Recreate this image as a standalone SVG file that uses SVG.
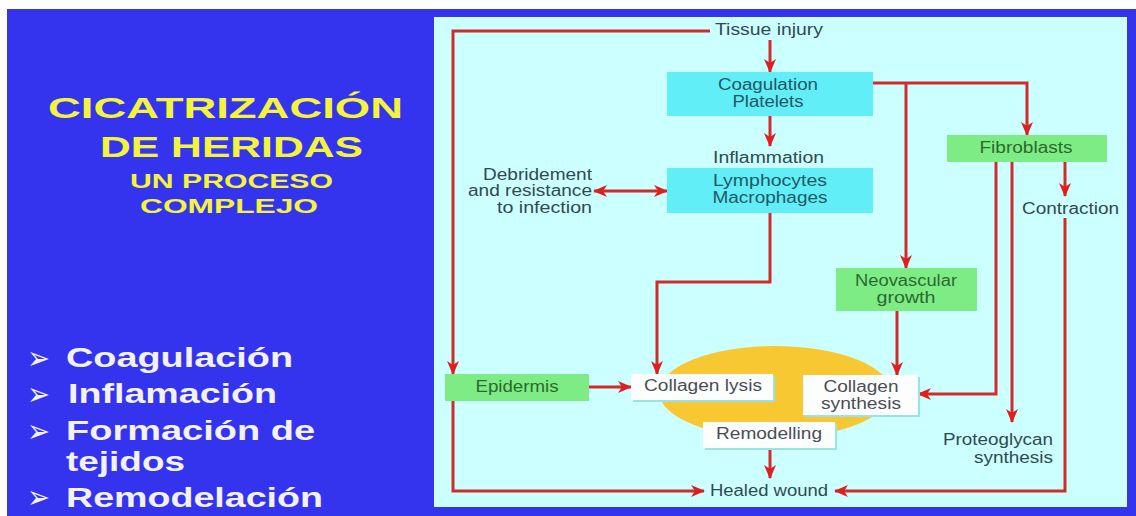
<svg xmlns="http://www.w3.org/2000/svg" width="1136" height="516" viewBox="0 0 1136 516">
<style>
.ttl{font-family:"Liberation Sans",Arial,sans-serif;font-weight:bold;fill:#f4f43c;}
.bul{font-family:"Liberation Sans",Arial,sans-serif;font-weight:bold;font-size:27px;fill:#f2f2f6;}
.sym{font-family:"DejaVu Sans",sans-serif;font-size:32px;fill:#f2f2f6;}
.t{font-family:"Liberation Sans",Arial,sans-serif;font-size:16px;fill:#2f4a50;}
.tc{font-family:"Liberation Sans",Arial,sans-serif;font-size:16px;fill:#1f5866;text-anchor:middle;}
.tg{font-family:"Liberation Sans",Arial,sans-serif;font-size:16px;fill:#2a6a30;text-anchor:middle;}
.tw{font-family:"Liberation Sans",Arial,sans-serif;font-size:16px;fill:#4a4d57;text-anchor:middle;}
.cy{fill:#62eef6;}
.gr{fill:#7eec84;}
.wh{fill:#fcfefe;}
.sh{fill:#98e2ea;}
.ln{fill:none;stroke:#d02c2c;stroke-width:3;marker-end:url(#ah);}
</style>
<defs>
<marker id="ah" viewBox="0 0 14 12" refX="13" refY="6" markerWidth="14" markerHeight="12" markerUnits="userSpaceOnUse" orient="auto-start-reverse">
<path d="M0,0 L14,6 L0,12 L4,6 Z" fill="#e01e1e"/>
</marker>
</defs>
<rect x="0" y="0" width="1136" height="516" fill="#ffffff"/>
<rect x="7" y="9" width="1129" height="507" fill="#3434ee"/>
<rect x="434" y="17" width="693" height="490" fill="#ccffff"/>

<g id="title">
<text class="ttl" x="48" y="118" font-size="29" textLength="355" lengthAdjust="spacingAndGlyphs">CICATRIZACIÓN</text>
<text class="ttl" x="100" y="157" font-size="29" textLength="263" lengthAdjust="spacingAndGlyphs">DE HERIDAS</text>
<text class="ttl" x="130" y="188" font-size="21" textLength="203" lengthAdjust="spacingAndGlyphs">UN PROCESO</text>
<text class="ttl" x="140" y="213" font-size="21" textLength="178" lengthAdjust="spacingAndGlyphs">COMPLEJO</text>
</g>

<g id="bullets">
<text class="sym" x="27" y="369" textLength="23" lengthAdjust="spacingAndGlyphs">➢</text>
<text class="bul" x="66" y="367" textLength="227" lengthAdjust="spacingAndGlyphs">Coagulación</text>
<text class="sym" x="27" y="405" textLength="23" lengthAdjust="spacingAndGlyphs">➢</text>
<text class="bul" x="68" y="403" textLength="209" lengthAdjust="spacingAndGlyphs">Inflamación</text>
<text class="sym" x="27" y="442" textLength="23" lengthAdjust="spacingAndGlyphs">➢</text>
<text class="bul" x="66" y="440" textLength="249" lengthAdjust="spacingAndGlyphs">Formación de</text>
<text class="bul" x="66" y="471" textLength="119" lengthAdjust="spacingAndGlyphs">tejidos</text>
<text class="sym" x="27" y="508" textLength="23" lengthAdjust="spacingAndGlyphs">➢</text>
<text class="bul" x="66" y="507" textLength="257" lengthAdjust="spacingAndGlyphs">Remodelación</text>
</g>

<ellipse id="remodel-zone" cx="775" cy="392" rx="116" ry="46" fill="#f8c832"/>

<g id="connectors">
<path class="ln" d="M710,31 H453 V374"/>
<path class="ln" d="M770,40 V72"/>
<path class="ln" d="M770,116 V146"/>
<path class="ln" d="M873,83 H1027 V135"/>
<path class="ln" d="M906,83 V268"/>
<path class="ln" d="M594,191 H667" style="marker-start:url(#ah)"/>
<path class="ln" d="M770,213 V282 H657 V374"/>
<path class="ln" d="M996,162 V394 H918"/>
<path class="ln" d="M1012,162 V422"/>
<path class="ln" d="M1065,162 V196"/>
<path class="ln" d="M1065,218 V491 H835"/>
<path class="ln" d="M897,311 V375"/>
<path class="ln" d="M589,387 H631"/>
<path class="ln" d="M453,401 V491 H704"/>
<path class="ln" d="M770,448 V478"/>
</g>

<g id="tissue-injury">
<text class="t" x="715" y="35" textLength="108" lengthAdjust="spacingAndGlyphs">Tissue injury</text>
</g>
<g id="coagulation">
<rect class="cy" x="667" y="72" width="206" height="44"/>
<text class="tc" x="768" y="90" textLength="100" lengthAdjust="spacingAndGlyphs">Coagulation</text>
<text class="tc" x="768" y="107" textLength="71" lengthAdjust="spacingAndGlyphs">Platelets</text>
</g>
<g id="inflammation">
<text class="t" x="713" y="163" textLength="111" lengthAdjust="spacingAndGlyphs">Inflammation</text>
<rect class="cy" x="667" y="168" width="206" height="45"/>
<text class="tc" x="770" y="186" textLength="114" lengthAdjust="spacingAndGlyphs">Lymphocytes</text>
<text class="tc" x="770" y="203" textLength="115" lengthAdjust="spacingAndGlyphs">Macrophages</text>
</g>
<g id="debridement">
<text class="t" x="483" y="180" textLength="109" lengthAdjust="spacingAndGlyphs">Debridement</text>
<text class="t" x="468" y="196" textLength="124" lengthAdjust="spacingAndGlyphs">and resistance</text>
<text class="t" x="497" y="213" textLength="95" lengthAdjust="spacingAndGlyphs">to infection</text>
</g>
<g id="fibroblasts">
<rect class="gr" x="947" y="135" width="160" height="27"/>
<text class="tg" x="1026" y="153" textLength="93" lengthAdjust="spacingAndGlyphs">Fibroblasts</text>
</g>
<g id="contraction">
<text class="t" x="1022" y="214" textLength="97" lengthAdjust="spacingAndGlyphs">Contraction</text>
</g>
<g id="neovascular">
<rect class="gr" x="836" y="268" width="141" height="43"/>
<text class="tg" x="906" y="286" textLength="102" lengthAdjust="spacingAndGlyphs">Neovascular</text>
<text class="tg" x="906" y="303" textLength="59" lengthAdjust="spacingAndGlyphs">growth</text>
</g>
<g id="epidermis">
<rect class="gr" x="445" y="374" width="144" height="27"/>
<text class="tg" x="517" y="392" textLength="83" lengthAdjust="spacingAndGlyphs">Epidermis</text>
</g>
<g id="collagen-lysis">
<rect class="sh" x="633" y="376" width="142" height="26"/>
<rect class="wh" x="631" y="374" width="142" height="26"/>
<text class="tw" x="703" y="391" textLength="118" lengthAdjust="spacingAndGlyphs">Collagen lysis</text>
</g>
<g id="collagen-synthesis">
<rect class="sh" x="805" y="377" width="115" height="40"/>
<rect class="wh" x="803" y="375" width="115" height="40"/>
<text class="tw" x="861" y="392" textLength="75" lengthAdjust="spacingAndGlyphs">Collagen</text>
<text class="tw" x="861" y="409" textLength="80" lengthAdjust="spacingAndGlyphs">synthesis</text>
</g>
<g id="remodelling">
<rect class="sh" x="705" y="424" width="132" height="26"/>
<rect class="wh" x="703" y="422" width="132" height="26"/>
<text class="tw" x="769" y="439" textLength="106" lengthAdjust="spacingAndGlyphs">Remodelling</text>
</g>
<g id="proteoglycan">
<text class="t" x="943" y="445" textLength="110" lengthAdjust="spacingAndGlyphs">Proteoglycan</text>
<text class="t" x="974" y="463" textLength="79" lengthAdjust="spacingAndGlyphs">synthesis</text>
</g>
<g id="healed-wound">
<text class="t" x="710" y="496" textLength="118" lengthAdjust="spacingAndGlyphs">Healed wound</text>
</g>
</svg>
